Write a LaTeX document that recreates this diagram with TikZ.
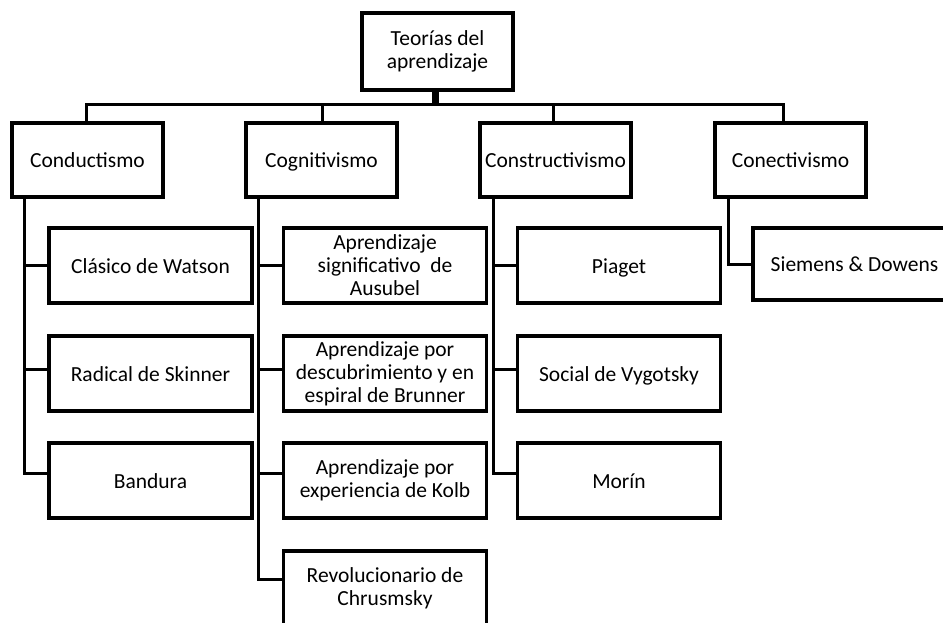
\documentclass[tikz,border=0pt]{standalone}
\usepackage{fontspec}
\setmainfont{Carlito}
\begin{document}
\begin{tikzpicture}[x=1pt,y=-1pt,
  box/.style={draw, line width=3.6pt, fill=white, minimum width=151pt, minimum height=74pt, inner sep=0pt, align=center, font=\fontsize{21.5}{23}\selectfont},
  subbox/.style={box, minimum width=203pt, minimum height=75pt},
  topbox/.style={box, line width=4.2pt, minimum width=151pt, minimum height=77pt},
  oneline/.style={text height=15pt, text depth=0pt},
  conn/.style={line width=3pt}]
\useasboundingbox (0,0) rectangle (943,623);
\clip (0,0) rectangle (943,623);
\node[topbox] (top) at (437.5,51.5) {Teorías del\\aprendizaje};
\node[box, oneline] (cond) at (87.5,160) {Conductismo};
\node[box, oneline] (cog) at (321.5,160) {Cognitivismo};
\node[box, oneline] (cons) at (555.5,160) {Constructivismo};
\node[box, oneline] (conec) at (790.5,160) {Conectivismo};
\coordinate (bar) at (435,105);
% connectors level 0 -> 1
\draw[line width=7pt] ([xshift=-2.5pt]top.south) -- ([xshift=-2.5pt]top.south |- bar);
\draw[conn] ([xshift=-1.5pt]cond.north) |- (bar) -| ([xshift=-7.5pt]conec.north);
\draw[conn] (bar) -| ([xshift=0.5pt]cog.north);
\draw[conn] (bar) -| ([xshift=-2.5pt]cons.north);
% level 2 nodes
\node[subbox, oneline] (wat) at (150.5,265.5) {Clásico de Watson};
\node[subbox, oneline] (ski) at (150.5,373.5) {Radical de Skinner};
\node[subbox, oneline] (ban) at (150.5,480.5) {Bandura};
\node[subbox] (aus) at (385,265.5) {Aprendizaje\\significativo\ \ de\\Ausubel};
\node[subbox] (bru) at (385,373.5) {Aprendizaje por\\descubrimiento y en\\espiral de Brunner};
\node[subbox] (kol) at (385,480.5) {Aprendizaje por\\experiencia de Kolb};
\node[subbox] (rev) at (385,588.5) {Revolucionario de\\Chrusmsky};
\node[subbox, oneline] (pia) at (619,265.5) {Piaget};
\node[subbox, oneline] (vyg) at (619,373.5) {Social de Vygotsky};
\node[subbox, oneline] (mor) at (619,480.5) {Morín};
\node[subbox, oneline, minimum height=72pt] (sie) at (854.5,264) {Siemens \& Dowens};
% connectors level 1 -> 2
\draw[conn] ([xshift=14pt]cond.south west) |- (wat.west);
\draw[conn] ([xshift=14pt]cond.south west) |- ([yshift=4.5pt]ski.west);
\draw[conn] ([xshift=14pt]cond.south west) |- ([yshift=7.5pt]ban.west);
\draw[conn] ([xshift=14pt]cog.south west) |- (aus.west);
\draw[conn] ([xshift=14pt]cog.south west) |- ([yshift=4.5pt]bru.west);
\draw[conn] ([xshift=14pt]cog.south west) |- ([yshift=7.5pt]kol.west);
\draw[conn] ([xshift=14pt]cog.south west) |- ([yshift=9.5pt]rev.west);
\draw[conn] ([xshift=15pt]cons.south west) |- (pia.west);
\draw[conn] ([xshift=15pt]cons.south west) |- ([yshift=4.5pt]vyg.west);
\draw[conn] ([xshift=15pt]cons.south west) |- ([yshift=7.5pt]mor.west);
\draw[conn] ([xshift=15pt]conec.south west) |- (sie.west);
\end{tikzpicture}
\end{document}
